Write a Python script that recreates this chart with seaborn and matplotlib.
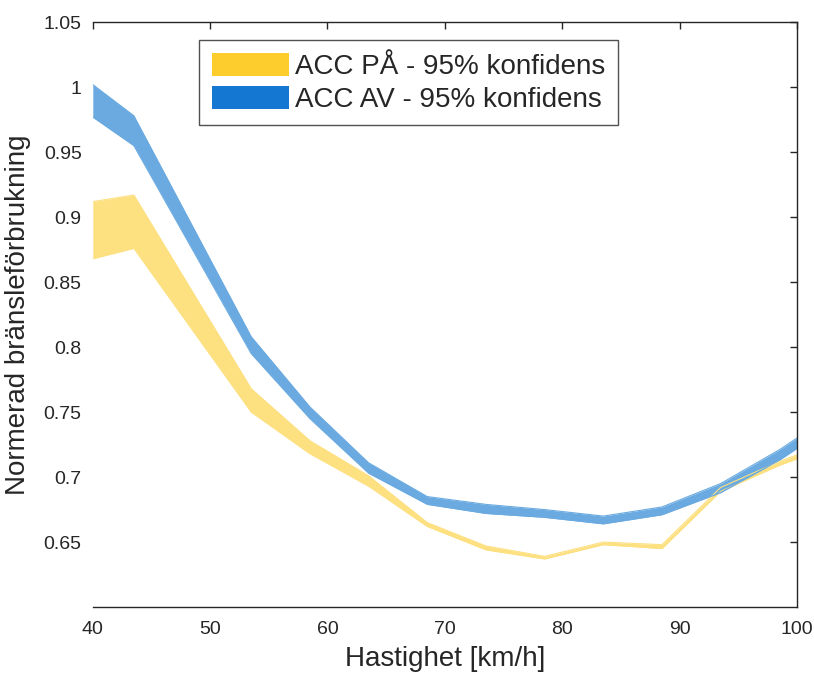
import matplotlib.pyplot as plt
import seaborn as sns
import pandas as pd
from matplotlib.patches import Patch

sns.set_style("white")
plt.rcParams['font.family'] = ['Liberation Sans', 'DejaVu Sans']

# hastighet [km/h] och konfidensband (övre / undre gräns)
x_pa = [40, 43.5, 53.5, 58.5, 63.5, 68.5, 73.5, 78.5, 83.5, 88.5, 93.5, 98.5, 100]
pa_upper = [0.912, 0.917, 0.768, 0.728, 0.701, 0.665, 0.647, 0.639, 0.650, 0.648, 0.692, 0.712, 0.717]
pa_lower = [0.868, 0.876, 0.750, 0.718, 0.693, 0.662, 0.644, 0.637, 0.648, 0.645, 0.689, 0.709, 0.714]

x_av = [40, 43.5, 53.5, 58.5, 63.5, 68.5, 73.5, 78.5, 83.5, 88.5, 93.5, 98.5, 100]
av_upper = [1.002, 0.978, 0.808, 0.754, 0.711, 0.685, 0.679, 0.675, 0.670, 0.677, 0.695, 0.721, 0.730]
av_lower = [0.977, 0.955, 0.795, 0.745, 0.703, 0.679, 0.672, 0.669, 0.664, 0.671, 0.688, 0.713, 0.722]

labels = ['ACC PÅ - 95% konfidens', 'ACC AV - 95% konfidens']
band_colors = ['#fde080', '#6aaae0']
legend_colors = ['#fccd2d', '#1478d2']

fig = plt.figure(figsize=(8.14, 6.73), dpi=100)
ax = fig.add_axes([0.114, 0.098, 0.865, 0.869])

for xs, up, lo, c in [(x_pa, pa_upper, pa_lower, band_colors[0]),
                      (x_av, av_upper, av_lower, band_colors[1])]:
    ax.fill_between(xs, lo, up, color=c, linewidth=0)
    d = pd.DataFrame({'x': xs + xs, 'y': up + lo, 'g': ['u'] * len(xs) + ['l'] * len(xs)})
    sns.lineplot(data=d, x='x', y='y', units='g', estimator=None, color=c, lw=0.8, ax=ax)

ax.set_xlim(40, 100)
ax.set_ylim(0.6, 1.05)
ax.set_xticks(range(40, 101, 10))
ax.set_yticks([0.65, 0.7, 0.75, 0.8, 0.85, 0.9, 0.95, 1.0, 1.05])
ax.set_yticklabels(['0.65', '0.7', '0.75', '0.8', '0.85', '0.9', '0.95', '1', '1.05'])
ax.tick_params(direction='in', length=5, width=1, colors='#262626', labelsize=14,
               top=True, right=True, labeltop=False, labelright=False)
ax.tick_params(axis='x', pad=10)
ax.tick_params(axis='y', pad=8)
for s in ['top', 'right', 'bottom']:
    ax.spines[s].set_color('#262626')
    ax.spines[s].set_linewidth(1)
ax.spines['left'].set_visible(False)

ax.set_xlabel('Hastighet [km/h]', fontsize=20, labelpad=6)
ax.set_ylabel('Normerad bränsleförbrukning', fontsize=20, labelpad=9)

handles = [Patch(facecolor=legend_colors[0], edgecolor='none', label=labels[0]),
           Patch(facecolor=legend_colors[1], edgecolor='none', label=labels[1])]
leg = ax.legend(handles=handles, loc='upper left', bbox_to_anchor=(0.151, 0.969),
                fontsize=20, frameon=True, fancybox=False, handlelength=2.8,
                handleheight=0.9, handletextpad=0.2, borderpad=0.45, labelspacing=0.2,
                borderaxespad=0)
leg.get_frame().set_edgecolor('#262626')
leg.get_frame().set_linewidth(1)

fig.savefig('out.png', dpi=100)
